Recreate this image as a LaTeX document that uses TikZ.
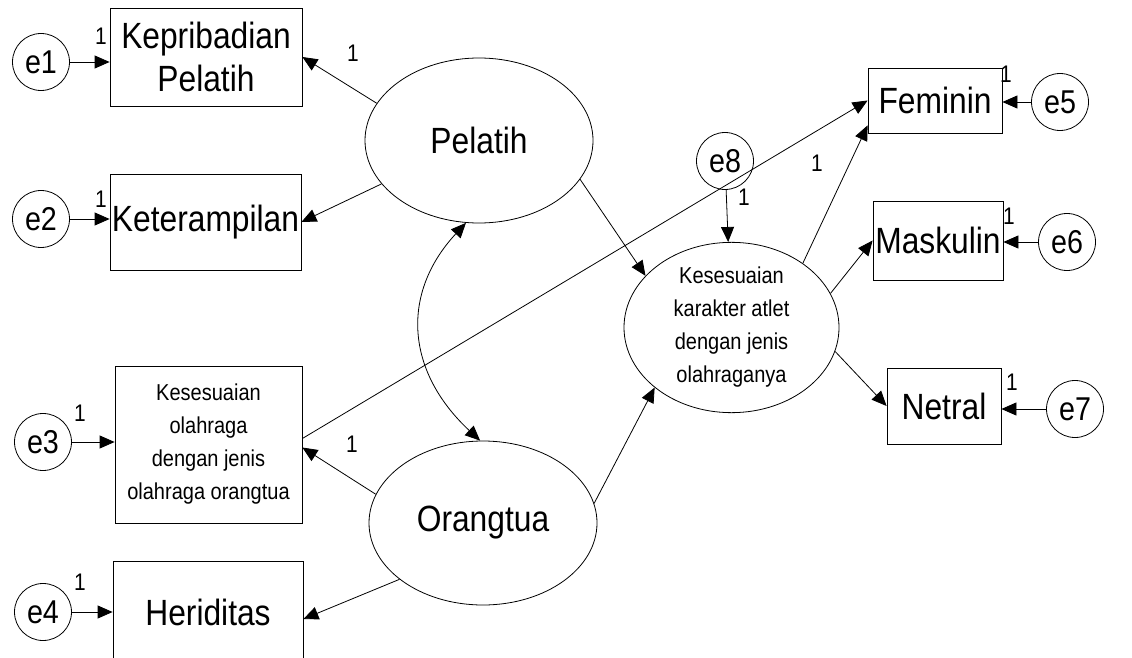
\documentclass[tikz,border=0pt]{standalone}
\usepackage{fontspec}
\setmainfont{Liberation Sans}
\newfontfamily\narrowfont{Liberation Sans}[FakeStretch=0.87]
\usetikzlibrary{arrows.meta,shapes.geometric}
\newcommand{\bigtxt}{\narrowfont\fontsize{36.5}{43}\selectfont}
\newcommand{\smalltxt}{\narrowfont\fontsize{23}{33}\selectfont}

\begin{document}
\begin{tikzpicture}[x=1pt, y=-1pt, line width=0.8pt,
  box/.style={draw, align=center, inner sep=0pt, font=\bigtxt},
  latent/.style={draw, ellipse, align=center, inner sep=0pt, font=\bigtxt},
  err/.style={draw, circle, minimum size=57pt, inner sep=0pt, font=\narrowfont\fontsize{33}{36}\selectfont},
  num/.style={inner sep=0pt, font=\narrowfont\fontsize{24}{26}\selectfont},
  arr/.style={-{Triangle[length=15pt,width=13pt]}}]
\useasboundingbox (0,0) rectangle (1132,658);
\node[box, minimum width=192pt, minimum height=98pt] (kep) at (206,57) {Kepribadian\\Pelatih};
\node[box, minimum width=191pt, minimum height=96pt] (ket) at (205.5,222) {Keterampilan};
\node[box, minimum width=187pt, minimum height=157pt, font=\smalltxt] (kso) at (208.5,444.5)
  {Kesesuaian\\olahraga\\dengan jenis\\olahraga orangtua};
\node[box, minimum width=190pt, minimum height=102pt] (her) at (208,612) {Heriditas};
\node[box, minimum width=134pt, minimum height=65pt] (fem) at (935,100.5) {Feminin};
\node[box, minimum width=130pt, minimum height=79pt] (mas) at (938,240.5) {Maskulin};
\node[box, minimum width=114pt, minimum height=76pt] (net) at (944,406) {Netral};
\node[latent, minimum width=228pt, minimum height=165pt] (pel) at (479,140.5) {Pelatih};
\node[latent, minimum width=228pt, minimum height=164pt] (ora) at (483,523) {Orangtua};
\node[latent, minimum width=215pt, minimum height=165pt, font=\smalltxt] (kka) at (731.5,327.5)
  {Kesesuaian\\karakter atlet\\dengan jenis\\olahraganya};
\node[err] (e1) at (41,62) {e1};
\node[err] (e2) at (41,219) {e2};
\node[err] (e3) at (43,442) {e3};
\node[err] (e4) at (43,612) {e4};
\node[err] (e5) at (1060,102) {e5};
\node[err] (e6) at (1067,242) {e6};
\node[err] (e7) at (1075,409) {e7};
\node[err] (e8) at (725,161) {e8};
\node[num] (w1) at (101,36) {1};
\node[num] (w2) at (101,199) {1};
\node[num] (w3) at (80,413) {1};
\node[num] (w4) at (80,582) {1};
\node[num] (w5) at (1006,74) {1};
\node[num] (w6) at (1009,216) {1};
\node[num] (w7) at (1012,382) {1};
\node[num] (w8) at (744,197) {1};
\node[num] (wp) at (353,53) {1};
\node[num] (wo) at (352,444) {1};
\node[num] (wk) at (817,163) {1};
\draw[arr] (e1) -- (e1 -| kep.west);
\draw[arr] (e2) -- (e2 -| ket.west);
\draw[arr] (e3) -- (e3 -| kso.west);
\draw[arr] (e4) -- (e4 -| her.west);
\draw[arr] (e5) -- (e5 -| fem.east);
\draw[arr] (e6) -- (e6 -| mas.east);
\draw[arr] (e7) -- (e7 -| net.east);
\draw[arr] (e8) -- (kka);
\draw[arr] (pel.160) -- (kep.east);
\draw[arr] (pel.204) -- (ket.east);
\draw[arr] (ora.165) -- ([yshift=-3pt]kso.east);
\draw[arr] (ora.214) -- ([yshift=-7pt]her.east);
\draw[arr] ([yshift=6pt]kso.east) -- (fem.west);
\draw[arr] (pel.-21) -- (kka.149);
\draw[arr] (ora.10) -- (kka.218);
\draw[arr] (kka.42) -- ([yshift=8pt]fem.south west);
\draw[arr] (kka.19) -- (mas.west);
\draw[arr] (kka.-13) -- (net.west);
\draw[{Triangle[length=15pt,width=13pt]}-{Triangle[length=15pt,width=13pt]}]
  (pel.261) .. controls +(-65,70) and +(-75,-70) .. (ora.92);
\end{tikzpicture}
\end{document}
